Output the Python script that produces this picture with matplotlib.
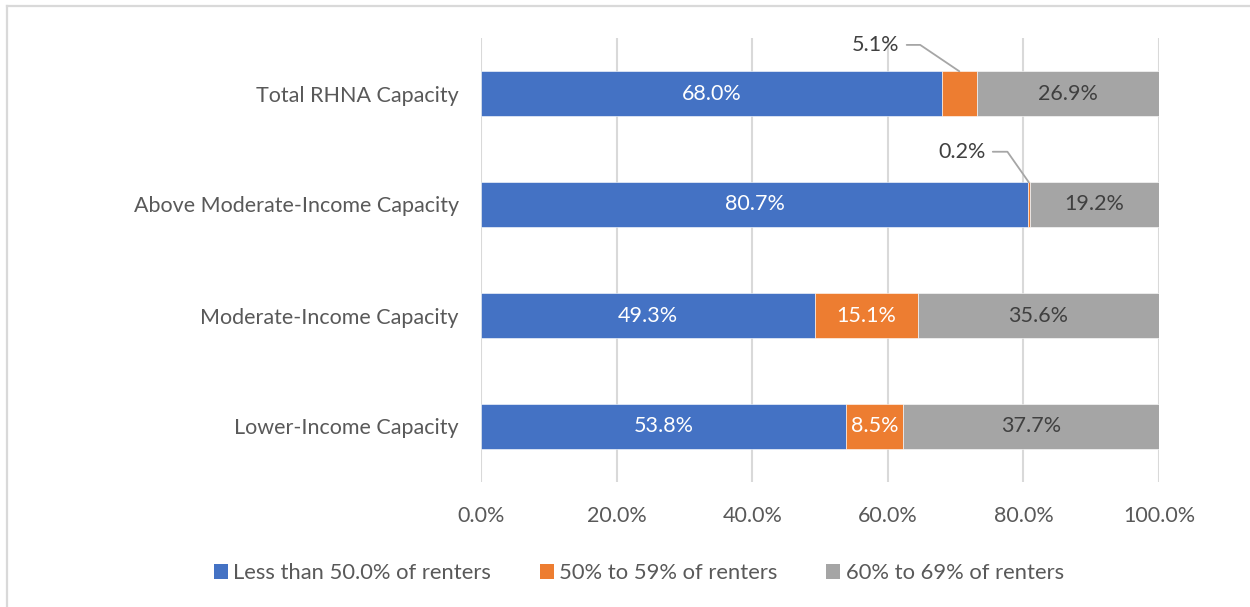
import matplotlib
matplotlib.use("Agg")
import matplotlib.pyplot as plt
from matplotlib.lines import Line2D
from matplotlib.patches import Patch

categories = ["Lower-Income Capacity", "Moderate-Income Capacity",
              "Above Moderate-Income Capacity", "Total RHNA Capacity"]
series_names = ["Less than 50.0% of renters", "50% to 59% of renters", "60% to 69% of renters"]
less_50 = [53.8, 49.3, 80.7, 68.0]
p50_59 = [8.5, 15.1, 0.2, 5.1]
p60_69 = [37.7, 35.6, 19.2, 26.9]
xticks = [0, 20, 40, 60, 80, 100]
xtick_labels = ["0.0%", "20.0%", "40.0%", "60.0%", "80.0%", "100.0%"]

colors = ["#4472C4", "#ED7D31", "#A5A5A5"]
label_colors = ["white", "white", "#404040"]
txt = "#595959"
FS = 15.5
plt.rcParams["font.family"] = ["Lato", "DejaVu Sans"]

fig = plt.figure(figsize=(12.5, 6.07), dpi=100)
W, H = 1250, 607
ax = fig.add_axes([481 / W, 1 - 482 / H, (1159 - 481) / W, (482 - 38) / H])

series = [less_50, p50_59, p60_69]
left = [0.0] * len(categories)
ypos = list(range(len(categories)))
for vals, col, lc in zip(series, colors, label_colors):
    ax.barh(ypos, vals, left=left, height=0.4, color=col, edgecolor="white",
            linewidth=0.4, zorder=3)
    for i, v in enumerate(vals):
        cx = left[i] + v / 2
        if v >= 5.5:
            ax.text(cx, ypos[i], f"{v:.1f}%", ha="center", va="center",
                    color=lc, fontsize=FS, zorder=4)
    left = [l + v for l, v in zip(left, vals)]

# callout labels for small segments
callouts = {3: (-60, 19, 146), 2: (-48, 22, 125)}
for i, (dx, dy, angB) in callouts.items():
    v = p50_59[i]
    xb = less_50[i] + v / 2
    ax.annotate(f"{v:.1f}%", xy=(xb, ypos[i] + 0.2), xytext=(dx, dy),
                textcoords="offset points", ha="center", va="center",
                color="#404040", fontsize=FS, zorder=5,
                arrowprops=dict(arrowstyle="-", color="#A6A6A6", lw=1.3,
                                shrinkA=3, shrinkB=0,
                                connectionstyle=f"angle,angleA=0,angleB={angB},rad=0"))

ax.set_xlim(0, 100)
ax.set_ylim(-0.5, len(categories) - 0.5)
ax.set_xticks(xticks)
ax.set_xticklabels(xtick_labels)
ax.set_yticks(ypos)
ax.set_yticklabels(categories)
ax.tick_params(axis="both", length=0, labelsize=FS, colors=txt)
ax.tick_params(axis="x", pad=17)
ax.tick_params(axis="y", pad=16)
ax.grid(axis="x", color="#D9D9D9", linewidth=1.5, zorder=0)
for s in ax.spines.values():
    s.set_visible(False)

handles = [Patch(facecolor=c, edgecolor="none") for c in colors]
leg = fig.legend(handles, series_names, loc="center", bbox_to_anchor=(0.511, 1 - 573 / H),
                 ncol=3, frameon=False, fontsize=FS + 0.3, handlelength=0.65, handleheight=0.65,
                 handletextpad=0.25, columnspacing=2.2, labelcolor=txt)

# chart border (partially visible)
fig.add_artist(Line2D([7 / W, 1], [1 - 6 / H, 1 - 6 / H], color="#D9D9D9", lw=1.6,
                      transform=fig.transFigure))
fig.add_artist(Line2D([7 / W, 7 / W], [0, 1 - 6 / H], color="#D9D9D9", lw=1.6,
                      transform=fig.transFigure))

fig.savefig("out.png", dpi=100, facecolor="white")
